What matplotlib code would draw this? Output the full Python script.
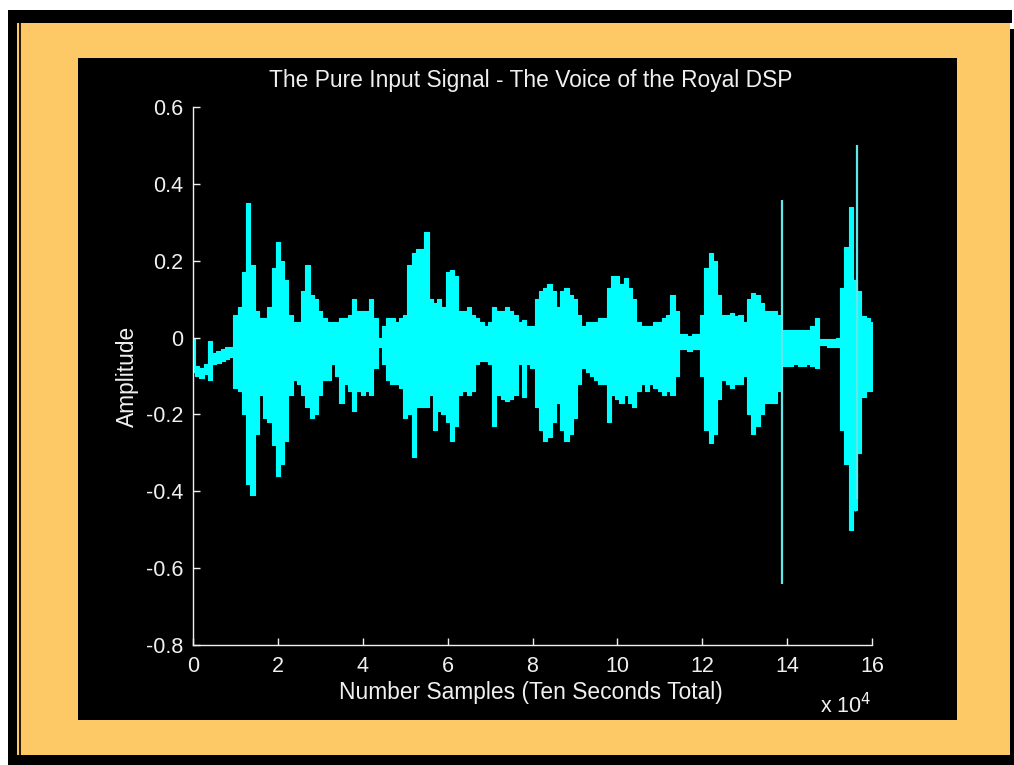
import numpy as np
import matplotlib
matplotlib.use("Agg")
import matplotlib.pyplot as plt
from matplotlib.patches import Rectangle

# ---------------- data (sample index, envelope of the voice signal) -------------
env_pos = np.arange(0, 161) * 1000          # sample index of each envelope column
env_upper = [
    0.0, -0.075, -0.08, -0.07, -0.01, -0.04, -0.035, -0.03, -0.025, -0.025,
    0.06, 0.08, 0.17, 0.35, 0.19, 0.07, 0.05, 0.05, 0.08, 0.18,
    0.25, 0.2, 0.15, 0.06, 0.04, 0.04, 0.12, 0.19, 0.11, 0.1,
    0.07, 0.05, 0.04, 0.04, 0.04, 0.05, 0.05, 0.06, 0.1, 0.07,
    0.07, 0.07, 0.1, 0.05, 0.0, 0.03, 0.05, 0.05, 0.04, 0.05,
    0.06, 0.19, 0.22, 0.23, 0.23, 0.275, 0.1, 0.09, 0.1, 0.08,
    0.17, 0.175, 0.16, 0.07, 0.07, 0.08, 0.06, 0.05, 0.04, 0.03,
    0.04, 0.08, 0.07, 0.07, 0.08, 0.07, 0.06, 0.04, 0.045, 0.03,
    0.03, 0.1, 0.12, 0.13, 0.14, 0.12, 0.08, 0.12, 0.13, 0.11,
    0.1, 0.06, 0.03, 0.04, 0.04, 0.04, 0.05, 0.05, 0.13, 0.16,
    0.16, 0.14, 0.155, 0.13, 0.1, 0.04, 0.03, 0.03, 0.03, 0.04,
    0.04, 0.05, 0.06, 0.11, 0.07, 0.01, 0.01, 0.005, 0.01, 0.01,
    0.06, 0.18, 0.22, 0.2, 0.11, 0.06, 0.06, 0.065, 0.055, 0.06,
    0.04, 0.1, 0.115, 0.11, 0.09, 0.07, 0.07, 0.07, 0.06, 0.02,
    0.02, 0.02, 0.02, 0.02, 0.02, 0.02, 0.03, 0.05, -0.005, -0.005,
    -0.005, -0.005, 0.0, 0.13, 0.235, 0.34, 0.15, 0.12, 0.055, 0.05,
    0.04,
]
env_lower = [
    -0.09, -0.1, -0.105, -0.095, -0.11, -0.07, -0.065, -0.06, -0.055, -0.05,
    -0.13, -0.14, -0.2, -0.38, -0.41, -0.25, -0.15, -0.21, -0.22, -0.28,
    -0.36, -0.33, -0.27, -0.15, -0.11, -0.12, -0.15, -0.18, -0.21, -0.2,
    -0.15, -0.11, -0.11, -0.07, -0.1, -0.17, -0.12, -0.14, -0.19, -0.14,
    -0.15, -0.14, -0.15, -0.08, -0.025, -0.07, -0.11, -0.12, -0.12, -0.13,
    -0.21, -0.2, -0.31, -0.18, -0.18, -0.18, -0.15, -0.24, -0.19, -0.2,
    -0.22, -0.27, -0.23, -0.15, -0.14, -0.15, -0.14, -0.07, -0.06, -0.06,
    -0.07, -0.23, -0.15, -0.16, -0.165, -0.16, -0.15, -0.07, -0.155, -0.07,
    -0.08, -0.18, -0.24, -0.27, -0.26, -0.22, -0.17, -0.24, -0.27, -0.25,
    -0.21, -0.12, -0.08, -0.09, -0.1, -0.11, -0.12, -0.12, -0.22, -0.15,
    -0.16, -0.17, -0.15, -0.17, -0.18, -0.14, -0.12, -0.14, -0.12, -0.13,
    -0.14, -0.15, -0.14, -0.15, -0.1, -0.03, -0.03, -0.035, -0.03, -0.03,
    -0.1, -0.24, -0.275, -0.25, -0.16, -0.11, -0.12, -0.13, -0.12, -0.12,
    -0.1, -0.2, -0.25, -0.23, -0.2, -0.17, -0.17, -0.17, -0.14, -0.075,
    -0.075, -0.075, -0.07, -0.075, -0.075, -0.07, -0.075, -0.08, -0.02, -0.02,
    -0.025, -0.025, -0.025, -0.24, -0.33, -0.5, -0.45, -0.3, -0.155, -0.14,
    -0.14,
]
spike_pos = [138700, 156400]
spike_top = [0.358, 0.5]
spike_bottom = [-0.64, -0.42]

xtick_pos = [0, 20000, 40000, 60000, 80000, 100000, 120000, 140000, 160000]
xtick_labels = ["0", "2", "4", "6", "8", "10", "12", "14", "16"]
ytick_pos = [0.6, 0.4, 0.2, 0.0, -0.2, -0.4, -0.6, -0.8]
ytick_labels = ["0.6", "0.4", "0.2", "0", "-0.2", "-0.4", "-0.6", "-0.8"]

title = "The Pure Input Signal - The Voice of the Royal DSP"
xlabel = "Number Samples (Ten Seconds Total)"
ylabel = "Amplitude"

# ---------------- figure ----------------
W, H = 1014, 765
plt.rcParams['font.family'] = ['Liberation Sans', 'DejaVu Sans']
fig = plt.figure(figsize=(W / 100, H / 100), dpi=100)
fig.patch.set_facecolor('white')

ORANGE = '#FDC966'


def rect(x0, y0, x1, y1, color, z=0):
    fig.add_artist(Rectangle((x0 / W, 1 - y1 / H), (x1 - x0) / W, (y1 - y0) / H,
                             transform=fig.transFigure, facecolor=color,
                             edgecolor='none', zorder=z))


rect(17, 23, 1010, 755, ORANGE)
rect(8, 10, 1012, 23, 'black')
rect(8, 10, 17, 765, 'black')
rect(19, 23, 21, 755, '#2a1a00')
rect(1010, 29, 1014, 755, 'black')
rect(8, 755, 1014, 765, 'black')
rect(78, 58, 957, 720, 'black')

ax = fig.add_axes([193 / W, 1 - 645 / H, (872 - 193) / W, (645 - 107) / H])
ax.set_facecolor('black')
ax.patch.set_alpha(0)

CYAN = '#00FFFF'
ax.fill_between(env_pos, env_lower, env_upper, step='mid', color=CYAN, linewidth=0.8,
                edgecolor=CYAN)
ax.vlines(env_pos, env_lower, env_upper, color=CYAN, linewidth=1.0)
ax.vlines(spike_pos, spike_bottom, spike_top, color='#60E8E8', linewidth=1.6)

ax.set_xlim(0, 160000)
ax.set_ylim(-0.8, 0.6)
ax.set_xticks(xtick_pos)
ax.set_xticklabels(xtick_labels)
ax.set_yticks(ytick_pos)
ax.set_yticklabels(ytick_labels)

FG = '#F0F0F0'
FS = 15.5
FS_LAB = 16.4
for s in ['top', 'right']:
    ax.spines[s].set_visible(False)
for s in ['left', 'bottom']:
    ax.spines[s].set_color(FG)
    ax.spines[s].set_linewidth(1.0)
ax.tick_params(direction='in', length=5, width=1.0, color=FG, labelcolor=FG,
               labelsize=FS)
ax.tick_params(axis='x', pad=8)
ax.tick_params(axis='y', pad=7)

fig.text(531 / W, 1 - 80 / H, title, color=FG, fontsize=FS_LAB, ha='center', va='center')
fig.text(531 / W, 1 - 693 / H, xlabel, color=FG, fontsize=FS_LAB, ha='center', va='center')
fig.text(127 / W, 1 - 376 / H, ylabel, color=FG, fontsize=FS_LAB, ha='center', va='center',
         rotation=90)
fig.text(871 / W, 1 - 706 / H, r"x 10$^{4}$", color=FG, fontsize=FS, ha='right',
         va='center')

fig.savefig('out.png', dpi=100, facecolor=fig.get_facecolor())
